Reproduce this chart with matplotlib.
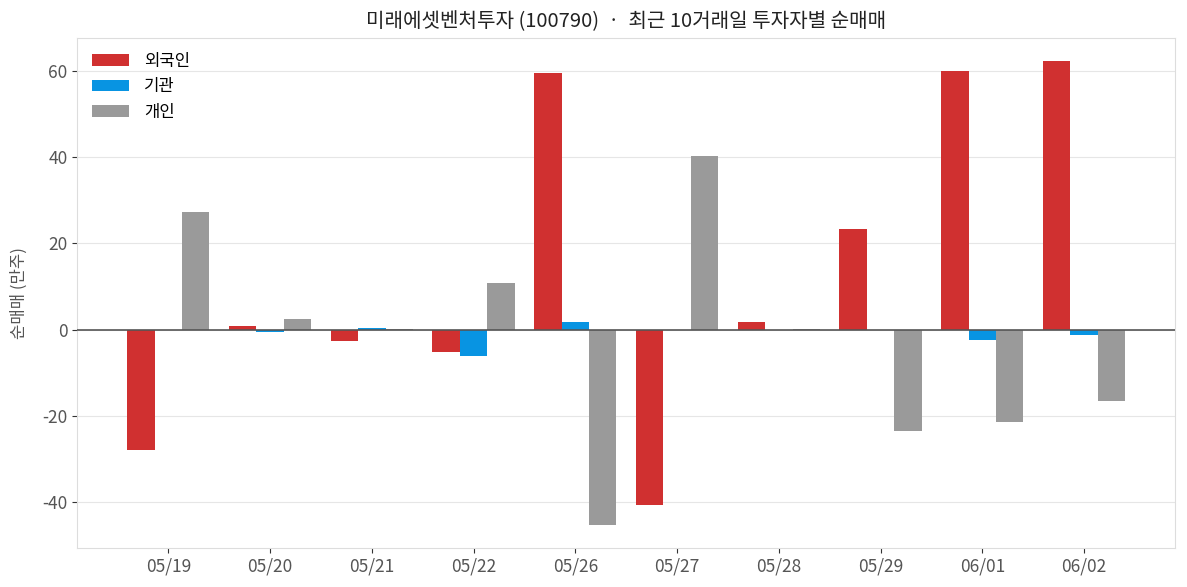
import matplotlib
matplotlib.use("Agg")
import matplotlib.pyplot as plt
import numpy as np

plt.rcParams['font.family'] = ['Noto Sans CJK KR', 'DejaVu Sans']
plt.rcParams['axes.unicode_minus'] = False

# 최근 10거래일 투자자별 순매매 (만주)
dates = ['05/19', '05/20', '05/21', '05/22', '05/26', '05/27', '05/28', '05/29', '06/01', '06/02']
foreign = [-27.9, 0.9, -2.5, -5.1, 59.6, -40.6, 1.7, 23.4, 60.0, 62.2]
institution = [0.0, -0.4, 0.5, -6.0, 1.7, 0.0, 0.0, 0.0, -2.4, -1.2]
individual = [27.4, 2.6, 0.3, 10.8, -45.1, 40.2, 0.2, -23.5, -21.3, -16.5]

x = np.arange(len(dates))
w = 0.27

fig, ax = plt.subplots(figsize=(11.87, 5.87), dpi=100)
ax.bar(x - w, foreign, w, color='#d03030', label='외국인', zorder=3)
ax.bar(x, institution, w, color='#0894e2', label='기관', zorder=3)
ax.bar(x + w, individual, w, color='#9a9a9a', label='개인', zorder=3)

ax.axhline(0, color='#555555', linewidth=1.2, zorder=4)
ax.grid(axis='y', color='#e6e6e6', linewidth=0.8, zorder=0)
ax.set_axisbelow(True)

ax.set_xticks(x)
ax.set_xticklabels(dates)
ax.set_yticks([-40, -20, 0, 20, 40, 60])
ax.tick_params(axis='both', labelsize=12.5, labelcolor='#555555', color='#333333')
ax.set_ylabel('순매매 (만주)', fontsize=12, color='#555555', labelpad=10)
ax.set_title('미래에셋벤처투자 (100790)  ·  최근 10거래일 투자자별 순매매', fontsize=14.5, color='#222222', pad=8)

for s in ax.spines.values():
    s.set_color('#dddddd')

ax.legend(loc='upper left', frameon=False, fontsize=12, handlelength=2.2, handletextpad=0.9,
          labelspacing=0.5, borderaxespad=0.5)

fig.subplots_adjust(left=0.065, right=0.99, top=0.935, bottom=0.067)
fig.savefig('out.png', dpi=100)
